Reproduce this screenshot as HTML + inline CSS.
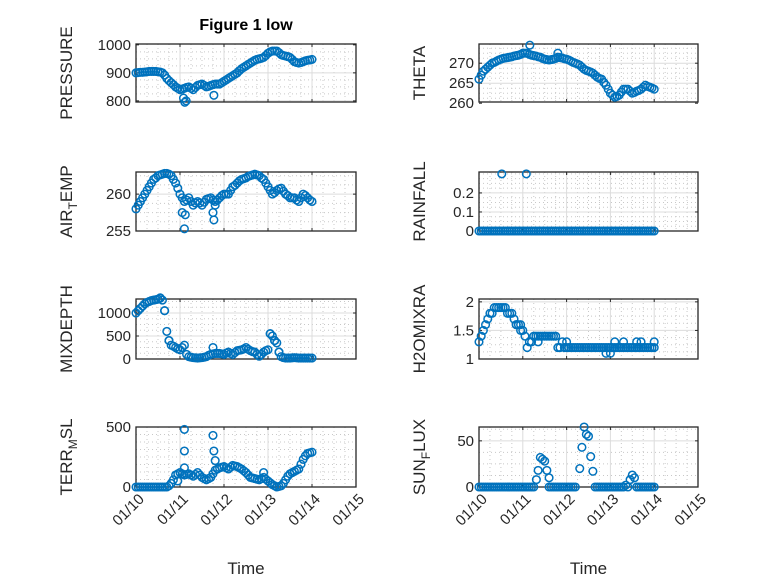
<!DOCTYPE html>
<html><head><meta charset="utf-8"><style>
html,body{margin:0;padding:0;background:#fff;}
svg{display:block;font-family:"Liberation Sans",sans-serif;}
</style></head><body>
<svg id="fig" width="778" height="583" viewBox="0 0 778 583" xmlns="http://www.w3.org/2000/svg">
<rect width="778" height="583" fill="#fff"/>
<text x="246" y="30" font-size="16" font-weight="bold" text-anchor="middle" fill="#000">Figure 1 low</text>
</svg>
<script>
// shared sample times (days since 01/10)
const times = [0,0.1,0.2,0.3,0.4,0.5,0.6,0.7,0.8,0.9,1.0,1.1,1.2,1.3,1.4,1.5,1.6,1.7,1.8,1.9,2.0,2.1,2.2,2.3,2.4,2.5,2.6,2.7,2.8,2.9,3.0,3.1,3.2,3.3,3.4,3.5,3.6,3.7,3.8,3.9,4.0];
const times2 = [0.05,0.15,0.25,0.35,0.45,0.55,0.65,0.75,0.85,0.95,1.05,1.15,1.25,1.35,1.45,1.55,1.65,1.75,1.85,1.95,2.05,2.15,2.25,2.35,2.45,2.55,2.65,2.75,2.85,2.95,3.05,3.15,3.25,3.35,3.45,3.55,3.65,3.75,3.85,3.95];
const xTickLabels = ["01/10","01/11","01/12","01/13","01/14","01/15"];

const pressureVals = [900,902,903,905,905,904,900,880,865,850,840,845,850,840,855,860,850,855,860,860,870,880,890,900,915,925,935,945,950,955,970,978,978,965,960,955,940,935,940,945,948];
const pressureVals2 = [901,902,904,905,905,903,892,872,858,845,842,848,845,848,858,855,852,858,860,865,875,885,895,908,920,930,940,948,952,962,975,978,972,962,958,948,937,937,943,946];
const pressureExtraT = [1.08,1.11,1.14,1.77];
const pressureExtraV = [810,795,800,820];

const thetaVals = [266,268,269,270,270.5,271,271.3,271.5,271.8,272,272.5,272.5,272,271.8,271.5,271,270.8,271,271.5,271.3,271,270.5,270,269.5,268.5,268,267.5,266.5,266,264.5,262.5,261.5,262,263.5,263.5,262.5,263,263.5,264.5,264,263.5];
const thetaVals2 = [267,268.5,269.5,270.2,270.8,271.2,271.4,271.6,271.9,272.2,272.5,272.2,271.9,271.6,271.2,270.9,270.9,271.2,271.4,271.1,270.8,270.2,269.8,269,268.2,267.8,267,266.2,265.2,263.5,262,261.7,262.8,263.5,263,262.7,263.2,264,264.2,263.8];
const thetaExtraT = [1.16,1.8];
const thetaExtraV = [274.5,272.5];

const airVals = [258,259,260,261,262,262.5,262.7,262.8,262.5,261.5,260,259,259.5,258.5,259,258.5,259.3,259.5,259,259.5,260,260,261,261.5,262,262.2,262.5,262.7,262.5,262,261,260,260.5,260.8,260,259.5,259.5,259,260,259.5,259];
const airVals2 = [258.5,259.5,260.5,261.5,262.2,262.6,262.8,262.7,262,260.8,259.5,259.2,259,258.8,258.8,258.9,259.4,259.2,259.2,259.8,260,260.5,261.2,261.8,262.1,262.4,262.6,262.6,262.2,261.5,260.5,260.2,260.7,260.4,259.8,259.5,259.2,259.5,259.8,259.2];
const airExtraT = [1.05,1.1,1.12,1.75,1.77,1.8];
const airExtraV = [257.5,255.3,257.2,257.5,256.5,258.5];

const rainVals = [0,0,0,0,0,0,0,0,0,0,0,0,0,0,0,0,0,0,0,0,0,0,0,0,0,0,0,0,0,0,0,0,0,0,0,0,0,0,0,0,0];
const rainVals2 = [0,0,0,0,0,0,0,0,0,0,0,0,0,0,0,0,0,0,0,0,0,0,0,0,0,0,0,0,0,0,0,0,0,0,0,0,0,0,0,0];
const rainExtraT = [0.52,1.08];
const rainExtraV = [0.3,0.3];

const mixVals = [1000,1100,1200,1250,1280,1300,1280,600,300,250,200,300,50,30,20,30,50,100,120,120,100,150,100,180,200,250,180,150,60,150,200,500,350,50,20,20,30,20,20,20,20];
const mixVals2 = [1050,1150,1230,1270,1290,1320,1050,400,280,220,250,100,40,25,25,40,80,110,120,110,130,120,140,190,220,210,160,100,100,180,550,400,150,30,20,25,25,20,20,20];
const mixExtraT = [0.55,0.65,0.75,1.75,3.05,3.15,3.25];
const mixExtraV = [1330,1050,400,250,550,400,150];

const h2oVals = [1.3,1.5,1.7,1.8,1.9,1.9,1.9,1.8,1.7,1.6,1.5,1.2,1.3,1.4,1.4,1.4,1.4,1.4,1.2,1.3,1.2,1.2,1.2,1.2,1.2,1.2,1.2,1.2,1.2,1.2,1.2,1.2,1.2,1.2,1.2,1.2,1.2,1.2,1.2,1.2,1.2];
const h2oVals2 = [1.4,1.6,1.8,1.9,1.9,1.9,1.8,1.8,1.6,1.5,1.4,1.3,1.4,1.4,1.4,1.4,1.4,1.4,1.2,1.2,1.2,1.2,1.2,1.2,1.2,1.2,1.2,1.2,1.2,1.2,1.2,1.2,1.2,1.2,1.2,1.2,1.2,1.2,1.2,1.2];
const h2oExtraT = [0.85,0.95,1.35,2.0,2.9,3.0,3.1,3.3,3.6,3.7,4.0];
const h2oExtraV = [1.6,1.6,1.3,1.3,1.1,1.1,1.3,1.3,1.3,1.3,1.3];

const terrVals = [0,0,0,0,0,0,0,0,30,100,120,100,110,90,120,80,60,80,140,160,170,150,180,170,150,120,80,70,60,80,50,20,0,10,60,110,130,150,230,280,290];
const terrVals2 = [0,0,0,0,0,0,0,10,60,110,110,105,100,105,100,70,70,110,150,165,160,165,175,160,135,100,75,65,70,65,35,10,5,30,90,120,140,190,260,285];
const terrExtraT = [1.1,1.1,1.1,1.75,1.77,1.8,2.9,0.95];
const terrExtraV = [480,300,160,430,300,220,120,50];

const sunVals = [0,0,0,0,0,0,0,0,0,0,0,0,0,null,null,null,0,0,0,0,0,0,0,null,null,null,null,0,0,0,0,0,0,0,0,13,0,0,0,0,0];
const sunVals2 = [0,0,0,0,0,0,0,0,0,0,0,0,0,null,null,null,0,0,0,0,0,0,null,null,null,null,0,0,0,0,0,0,0,2,8,10,0,0,0,0];
const sunExtraT = [1.31,1.35,1.4,1.45,1.5,1.55,1.6,2.3,2.35,2.4,2.45,2.5,2.55,2.6];
const sunExtraV = [8,18,32,30,28,18,10,20,43,65,57,55,33,17];

const svg = document.getElementById('fig');
const NS = 'http://www.w3.org/2000/svg';
function mk(tag, attrs, parent){const e=document.createElementNS(NS,tag);for(const k in attrs)e.setAttribute(k,attrs[k]);(parent||svg).appendChild(e);return e;}

const cols = [{x0:136,x1:356},{x0:479,x1:698}];
const rows = [{y0:44,y1:102},{y0:172,y1:231},{y0:299,y1:359},{y0:427,y1:487}];

const panels = [
 {name:'pressure',c:0,r:0,ymin:796,ymax:1003,ticks:[800,900,1000],tl:['800','900','1000'],minor:25,vals:pressureVals,vals2:pressureVals2,et:pressureExtraT,ev:pressureExtraV,label:['PRESSURE']},
 {name:'theta',c:1,r:0,ymin:260.3,ymax:274.8,ticks:[260,265,270],tl:['260','265','270'],minor:1.25,vals:thetaVals,vals2:thetaVals2,et:thetaExtraT,ev:thetaExtraV,label:['THETA']},
 {name:'air-temp',c:0,r:1,ymin:255,ymax:263,ticks:[255,260],tl:['255','260'],minor:1.25,vals:airVals,vals2:airVals2,et:airExtraT,ev:airExtraV,label:['AIR','T','EMP']},
 {name:'rainfall',c:1,r:1,ymin:0,ymax:0.31,ticks:[0,0.1,0.2],tl:['0','0.1','0.2'],minor:0.025,vals:rainVals,vals2:rainVals2,et:rainExtraT,ev:rainExtraV,label:['RAINFALL']},
 {name:'mixdepth',c:0,r:2,ymin:0,ymax:1304,ticks:[0,500,1000],tl:['0','500','1000'],minor:125,vals:mixVals,vals2:mixVals2,et:mixExtraT,ev:mixExtraV,label:['MIXDEPTH']},
 {name:'h2o-mixratio',c:1,r:2,ymin:1,ymax:2.05,ticks:[1,1.5,2],tl:['1','1.5','2'],minor:0.125,vals:h2oVals,vals2:h2oVals2,et:h2oExtraT,ev:h2oExtraV,label:['H2OMIXRA']},
 {name:'terrain-msl',c:0,r:3,ymin:0,ymax:500,ticks:[0,500],tl:['0','500'],minor:62.5,vals:terrVals,vals2:terrVals2,et:terrExtraT,ev:terrExtraV,label:['TERR','M','SL']},
 {name:'sun-flux',c:1,r:3,ymin:0,ymax:65,ticks:[0,50],tl:['0','50'],minor:12.5,vals:sunVals,vals2:sunVals2,et:sunExtraT,ev:sunExtraV,label:['SUN','F','LUX']},
];

panels.forEach(p=>{
  const {x0,x1}=cols[p.c], {y0,y1}=rows[p.r];
  const xs = t => x0 + (x1-x0)*t/5;
  const ys = v => y1 - (y1-y0)*(v-p.ymin)/(p.ymax-p.ymin);
  const g = mk('g',{});
  
  
  for(let t=0.25;t<5;t+=0.25){ if(Math.abs(t-Math.round(t))<1e-6) continue;
    mk('line',{x1:xs(t),x2:xs(t),y1:y0,y2:y1,stroke:'#c8c8c8','stroke-width':1,'stroke-dasharray':'1 3'},g);}
  const start=Math.ceil(p.ymin/p.minor)*p.minor;
  for(let v=start;v<=p.ymax;v+=p.minor){ if(p.ticks.some(k=>Math.abs(k-v)<1e-9)) continue;
    mk('line',{x1:x0,x2:x1,y1:ys(v),y2:ys(v),stroke:'#c8c8c8','stroke-width':1,'stroke-dasharray':'1 3'},g);}
  for(let t=1;t<5;t++) mk('line',{x1:xs(t),x2:xs(t),y1:y0,y2:y1,stroke:'#dcdcdc','stroke-width':1},g);
  p.ticks.forEach(v=>{ if(ys(v)>y0+1&&ys(v)<y1-1) mk('line',{x1:x0,x2:x1,y1:ys(v),y2:ys(v),stroke:'#dcdcdc','stroke-width':1},g);});
  const box=mk('rect',{x:x0,y:y0,width:x1-x0,height:y1-y0,fill:'none',stroke:'#262626','stroke-width':1.3},g);
  
  
  for(let t=0;t<=5;t++){
    mk('line',{x1:xs(t),x2:xs(t),y1:y1,y2:y1-3,stroke:'#262626'},g);
    mk('line',{x1:xs(t),x2:xs(t),y1:y0,y2:y0+3,stroke:'#262626'},g);
  }
  p.ticks.forEach((v,i)=>{
    mk('line',{x1:x0,x2:x0+3,y1:ys(v),y2:ys(v),stroke:'#262626'},g);
    mk('line',{x1:x1,x2:x1-3,y1:ys(v),y2:ys(v),stroke:'#262626'},g);
    const tx=mk('text',{x:x0-5,y:ys(v)+5,'font-size':15,'text-anchor':'end',fill:'#262626'},g);
    tx.textContent=p.tl[i];
    
    
  });
  if(p.r===3){
    xTickLabels.forEach((lab,i)=>{
      const tx=mk('text',{transform:`translate(${xs(i)+9},${y1+13}) rotate(-45)`,'font-size':15,'text-anchor':'end',fill:'#262626'},g);
      tx.textContent=lab;
      
      
    });
    const xl=mk('text',{x:(x0+x1)/2,y:574,'font-size':17,'text-anchor':'middle',fill:'#262626'},g);
    xl.textContent='Time';
    
    
  }
  const lx = p.c===0 ? x0-64 : x0-54;
  const yl=mk('text',{transform:`translate(${lx},${(y0+y1)/2}) rotate(-90)`,'font-size':17,'text-anchor':'middle',fill:'#262626'},g);
  
  
  p.label.forEach((s,i)=>{
    const ts=mk('tspan',{},yl);
    if(i===1){ts.setAttribute('font-size','12');ts.setAttribute('dy','5');}
    if(i===2){ts.setAttribute('dy','-5');}
    ts.textContent=s;
  });
  const ser=mk('g',{},g);
  
  
  const pts=[];
  times.forEach((t,i)=>{ if(p.vals[i]!==null) pts.push([t,p.vals[i]]); });
  times2.forEach((t,i)=>{ if(p.vals2[i]!==null) pts.push([t,p.vals2[i]]); });
  p.et.forEach((t,i)=>pts.push([t,p.ev[i]]));
  pts.forEach(([t,v])=>{
    const c=mk('circle',{cx:xs(t),cy:ys(v),r:3.8,fill:'none',stroke:'#0072BD','stroke-width':1.5},ser);
    
    
  });
});
</script>
</body></html>
